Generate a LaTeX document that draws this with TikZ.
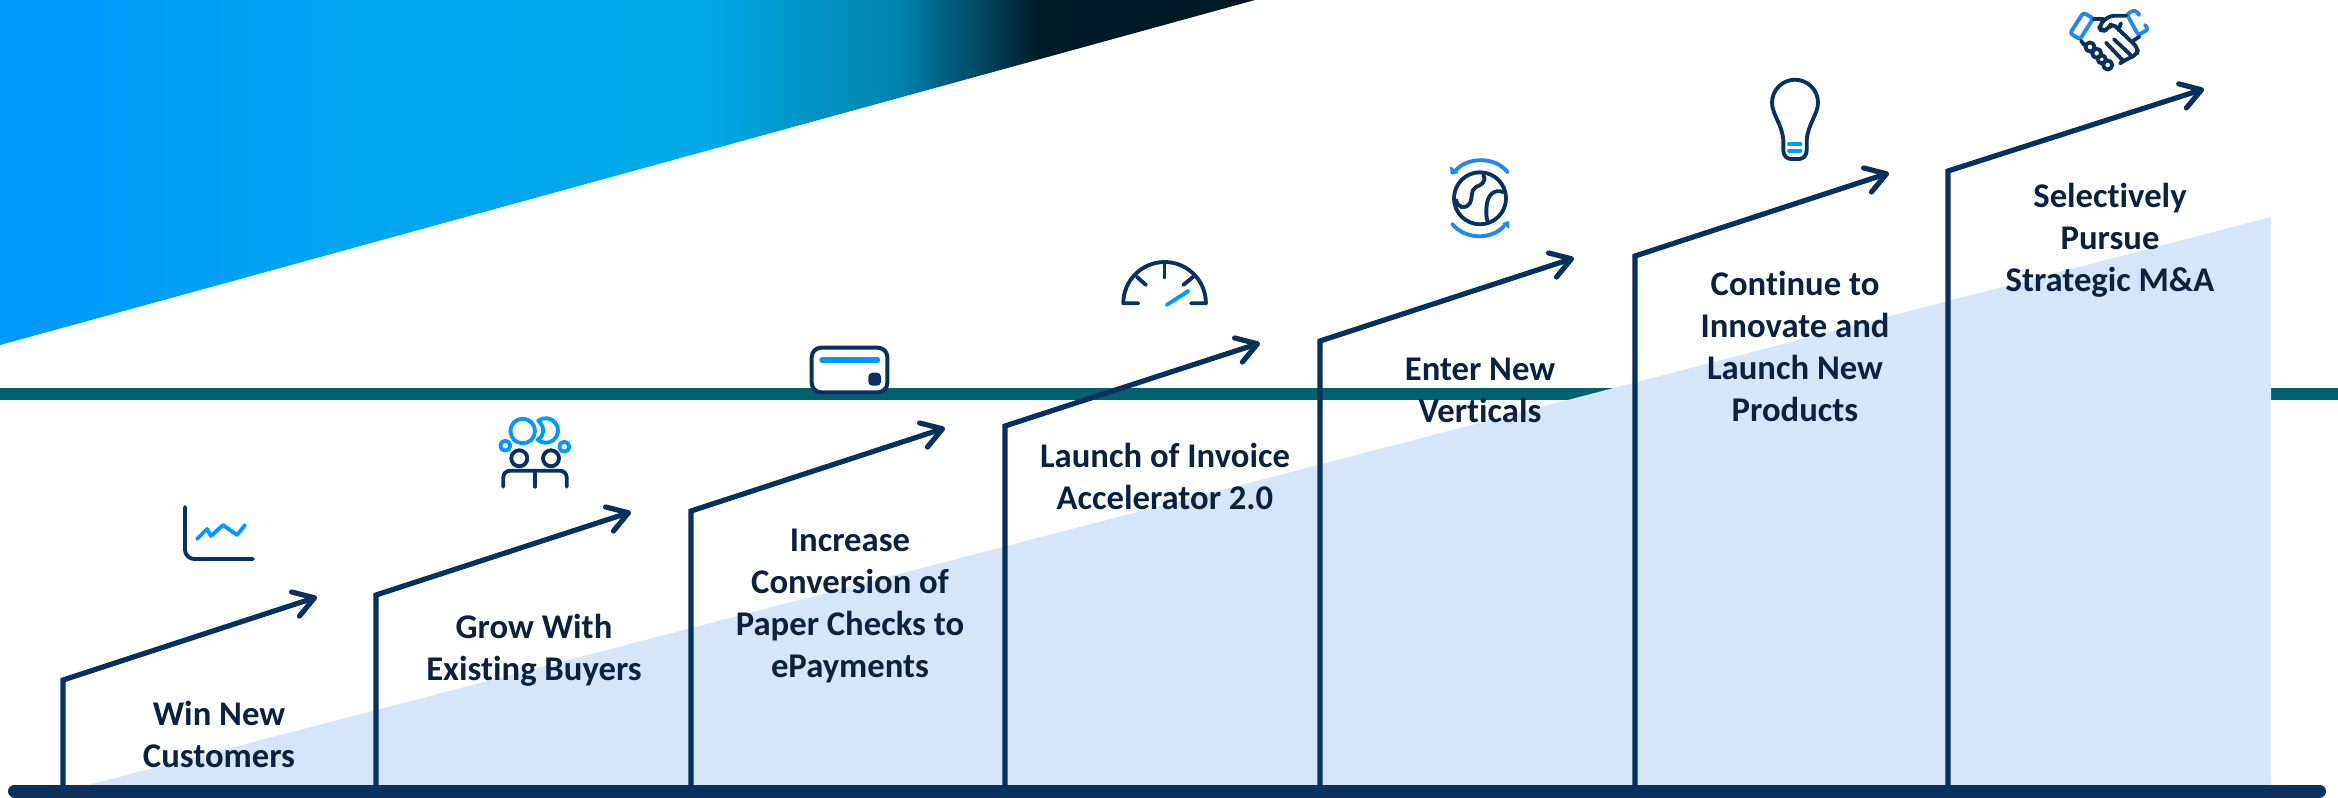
\documentclass[tikz,border=0pt]{standalone}
\usepackage{fontspec}
\setmainfont{Carlito}[Ligatures=NoCommon]
\usetikzlibrary{arrows.meta}

\definecolor{navy}{RGB}{10,48,94}
\definecolor{inkblue}{RGB}{10,34,64}
\definecolor{teal}{RGB}{0,96,112}
\definecolor{paleblue}{RGB}{215,229,248}
\definecolor{brightblue}{RGB}{0,153,255}
\definecolor{softblue}{RGB}{34,136,240}
\definecolor{wedgemid}{RGB}{0,165,240}
\definecolor{wedgecyan}{RGB}{0,170,230}
\definecolor{wedgeteal}{RGB}{0,130,170}
\definecolor{wedgedark}{RGB}{0,28,40}
\definecolor{wedgeend}{RGB}{0,25,36}

\pgfdeclarehorizontalshading{wedgeshade}{100bp}{
  color(0bp)=(brightblue);
  color(25bp)=(brightblue);
  color(39bp)=(wedgemid);
  color(52.9bp)=(wedgecyan);
  color(60.9bp)=(wedgeteal);
  color(66.4bp)=(wedgedark);
  color(75bp)=(wedgeend);
  color(100bp)=(wedgeend)}

\tikzset{
  stepline/.style={draw=navy,line width=3.9pt,miter limit=10,-{Straight Barb[length=15pt,width=19pt,round]}},
  steplabel/.style={anchor=center,align=center,text=inkblue,font=\fontsize{26}{31.5}\selectfont\bfseries},
  darkicon/.style={draw=navy,line width=2.9pt,line cap=round,line join=round},
  blueicon/.style={draw=brightblue,line width=2.9pt,line cap=round,line join=round},
  softicon/.style={draw=softblue,line width=2.9pt,line cap=round,line join=round}
}

\begin{document}
\begin{tikzpicture}[x=0.75pt,y=0.75pt,yscale=-1,xscale=1]
\useasboundingbox (0,0) rectangle (2338,797);

%Teal band and wedge
\fill [teal] (0,387.5) rectangle (2338,400);
\shade [shading=wedgeshade] (0,0) -- (1255,0) -- (0,345) -- cycle;
\fill [paleblue] (88,785) -- (2271,217) -- (2271,790) -- (88,790) -- cycle;

%Ground line
\draw [navy,line width=9.75pt,line cap=round] (14.5,791) -- (2319.5,791);

%Step lines
\coordinate (base1) at (63,785); \coordinate (corner1) at (63,680); \coordinate (tip1) at (317,597);
\coordinate (base2) at (376,785); \coordinate (corner2) at (376,595); \coordinate (tip2) at (631,512);
\coordinate (base3) at (691,785); \coordinate (corner3) at (691,511); \coordinate (tip3) at (945,428);
\coordinate (base4) at (1005,785); \coordinate (corner4) at (1005,426); \coordinate (tip4) at (1260,343);
\coordinate (base5) at (1320,785); \coordinate (corner5) at (1320,341); \coordinate (tip5) at (1574,258);
\coordinate (base6) at (1635,785); \coordinate (corner6) at (1635,256); \coordinate (tip6) at (1889,173);
\coordinate (base7) at (1948,785); \coordinate (corner7) at (1948,171); \coordinate (tip7) at (2204,89);
\draw [stepline] (base1) -- (corner1) -- (tip1);
\draw [stepline] (base2) -- (corner2) -- (tip2);
\draw [stepline] (base3) -- (corner3) -- (tip3);
\draw [stepline] (base4) -- (corner4) -- (tip4);
\draw [stepline] (base5) -- (corner5) -- (tip5);
\draw [stepline] (base6) -- (corner6) -- (tip6);
\draw [stepline] (base7) -- (corner7) -- (tip7);

% Text Node
\node (customers) [steplabel] at (219,734) {Win New\\Customers};
\node (buyers) [steplabel] at (534,650) {Grow With\\Existing Buyers};
\node (checks) [steplabel] at (850,606) {Increase\\Conversion of\\Paper Checks to\\ePayments};
\node (invoice) [steplabel] at (1165,476) {Launch of Invoice\\Accelerator 2.0};
\node (verticals) [steplabel] at (1480,390) {Enter New\\Verticals};
\node (products) [steplabel] at (1795,346) {Continue to\\Innovate and\\Launch New\\Products};
\node (strategic) [steplabel] at (2110,240) {Selectively\\Pursue\\Strategic M\&A};

%Icon: chart
\draw [darkicon,rounded corners=7] (185,507) -- (185,559) -- (253,559);
\draw [blueicon] (197,539) -- (207,529) -- (211,536) -- (223,525) -- (237,535) -- (245,525);

%Icon: people
\draw [blueicon] (522.7,431) circle [radius=12.3];
\draw [blueicon] (538.3,420.7) arc [start angle=232.6,end angle=492,radius=12.3] .. controls (545,436) and (545,427) .. cycle;
\draw [blueicon] (505.3,445.7) circle [radius=5];
\draw [blueicon] (564.3,446.7) circle [radius=5];
\draw [darkicon] (519.3,458.3) circle [radius=8];
\draw [darkicon] (551,458.3) circle [radius=8];
\draw [darkicon,rounded corners=5] (503.3,486.7) -- (503.3,470.7) -- (566.7,470.7) -- (566.7,486.7);
\draw [darkicon] (535,470.7) -- (535,486.7);

%Icon: card
\draw [darkicon,fill=white,line width=3pt,rounded corners=7] (811.7,347.7) rectangle (887.3,392.3);
\draw [blueicon,line width=4pt] (822,360) -- (877.5,360);
\fill [navy,rounded corners=3] (868.3,372.7) rectangle (881,385.7);

%Icon: gauge
\draw [darkicon] (1138.3,303.3) -- (1123.3,303.3) arc [start angle=180,end angle=360,radius=41.3] -- (1191,303.3);
\draw [darkicon] (1164.5,263.3) -- (1164.5,277.3);
\draw [darkicon] (1136.7,276.7) -- (1146,285);
\draw [darkicon] (1193.3,276.7) -- (1183.3,285);
\draw [blueicon] (1166.7,305) -- (1188.3,291);

%Icon: globe
\draw [darkicon] (1480,198.3) circle [radius=26];
\draw [darkicon] (1483.3,175) .. controls (1487,182) and (1481,185) .. (1476,187) .. controls (1470,190) and (1473,198) .. (1470,203) .. controls (1465,210) and (1458,208) .. (1456,200);
\draw [darkicon] (1503,192) .. controls (1495,189) and (1488,194) .. (1486.7,205) .. controls (1486,212) and (1486,218) .. (1488,222);
\draw [softicon] (1507.7,172.3) .. controls (1495,156) and (1468,157) .. (1456,170);
\fill [softblue,rounded corners=1] (1450,166) -- (1450.7,175) -- (1459.3,172.7) -- cycle;
\draw [softicon] (1452.3,224) .. controls (1465,240) and (1492,240) .. (1504,226);
\fill [softblue,rounded corners=1] (1509.3,220.7) -- (1509.3,229.3) -- (1501.7,223.3) -- cycle;

%Icon: bulb
\draw [darkicon] (1783.3,140) .. controls (1782,124) and (1772,114) .. (1772,102.7) arc [start angle=180,end angle=360,radius=23] .. controls (1818,114) and (1808,124) .. (1806.7,140) -- (1806.7,150) .. controls (1806.7,156) and (1803,159) .. (1799,159) -- (1791,159) .. controls (1787,159) and (1783.3,156) .. (1783.3,150) -- cycle;
\draw [blueicon] (1789,144) -- (1800.5,144);
\draw [blueicon] (1789,150.7) -- (1800.5,150.7);

%Icon: handshake
\draw [softicon,rounded corners=2] (2083.3,12.7) -- (2093.3,18.3) -- (2080,39.3) -- (2070,33.3) -- cycle;
\draw [softicon,rounded corners=2] (2139.3,15) -- (2135,10) -- (2126.7,14) -- (2138.3,35) -- (2148.3,29.3) -- (2145,25);
\draw [darkicon] (2094,19) -- (2102.7,19);
\draw [darkicon,rounded corners=4] (2126,15.7) -- (2109.3,15.7) -- (2098.3,26) -- (2101.7,31.7) -- (2108.3,29) -- (2111.7,22.7) -- (2138.3,48.3) -- (2136.7,55) -- (2128.3,58.3) -- (2120,63.3);
\draw [darkicon] (2131.7,41.7) -- (2139.3,36.7);
\draw [darkicon] (2081,40.7) -- (2084.3,45);
\draw [darkicon] (2106,42.7) -- (2123.3,61);
\draw [darkicon] (2114,39.3) -- (2130.7,55);
\draw [darkicon] (2121,23.3) -- (2118.3,30);
\draw [darkicon] (2090,47) circle [radius=4.5];
\draw [darkicon] (2096.7,53.3) circle [radius=4.5];
\draw [darkicon] (2101.7,59.3) circle [radius=4];
\draw [darkicon] (2107.7,65) circle [radius=4.5];

\end{tikzpicture}
\end{document}
